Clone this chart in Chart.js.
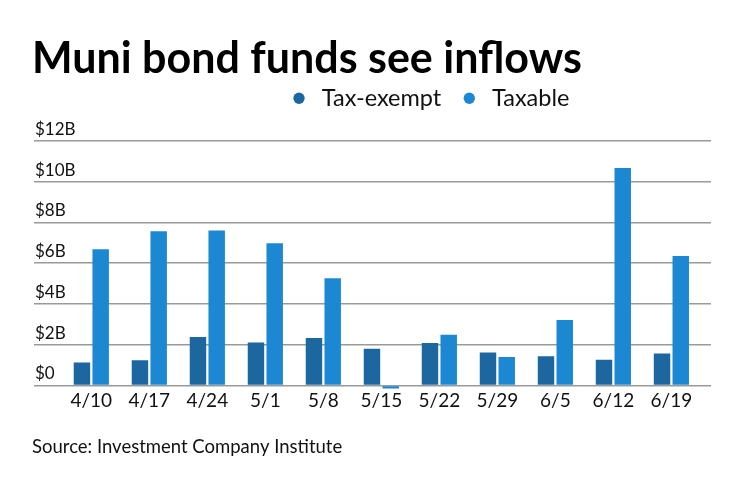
<!DOCTYPE html>
<html>
<head>
<meta charset="utf-8">
<script src="https://cdn.jsdelivr.net/npm/chart.js@4"></script>
<style>
  html, body { margin: 0; padding: 0; background: #ffffff; }
  #wrap { width: 740px; height: 482px; }
</style>
</head>
<body>
<div id="wrap"><canvas id="c" width="740" height="482"></canvas></div>
<script>
// ---- data ----
const categories = ['4/10', '4/17', '4/24', '5/1', '5/8', '5/15', '5/22', '5/29', '6/5', '6/12', '6/19'];
const taxExempt = [1.13, 1.23, 2.38, 2.11, 2.33, 1.80, 2.08, 1.62, 1.43, 1.26, 1.57];
const taxable   = [6.69, 7.57, 7.61, 6.98, 5.26, -0.15, 2.49, 1.39, 3.21, 10.67, 6.36];
const yTickValues = [0, 2, 4, 6, 8, 10, 12];
const yTickLabels = ['$0', '$2B', '$4B', '$6B', '$8B', '$10B', '$12B'];
const seriesNames = ['Tax-exempt', 'Taxable'];
const titleText = 'Muni bond funds see inflows';
const sourceText = 'Source: Investment Company Institute';

const FONT = "Lato, 'Noto Sans', sans-serif";
const toPoints = arr => arr.map((v, i) => ({ x: i, y: v }));

// shift legend horizontally so its first marker sits where the reference has it
const legendShift = {
  id: 'legendShift',
  afterLayout(chart) {
    const lg = chart.legend;
    if (!lg || !lg.lineWidths) return;
    const pad = lg.options.labels.padding;
    const curStart = (lg.left + pad + lg.right - lg.lineWidths[0]) / 2;
    const desiredStart = 288;
    const dx = desiredStart - curStart;
    lg.left += dx;
    lg.right += dx;
  }
};

new Chart(document.getElementById('c'), {
  type: 'bar',
  data: {
    datasets: [
      {
        label: seriesNames[0],
        data: toPoints(taxExempt),
        backgroundColor: '#1c67a0',
        borderWidth: 0
      },
      {
        label: seriesNames[1],
        data: toPoints(taxable),
        backgroundColor: '#1c87d3',
        borderWidth: 0
      }
    ]
  },
  options: {
    responsive: false,
    animation: false,
    categoryPercentage: 0.646,
    barPercentage: 0.878,
    layout: { padding: { left: 32, right: 29, top: 0, bottom: 0 } },
    plugins: {
      tooltip: { enabled: false },
      title: {
        display: true,
        text: titleText,
        align: 'start',
        color: '#000000',
        font: { family: FONT, size: 43, weight: 'bold', lineHeight: 0.5 },
        padding: { top: 48, bottom: 0 }
      },
      legend: {
        display: true,
        position: 'top',
        align: 'center',
        labels: {
          usePointStyle: true,
          pointStyle: 'circle',
          boxWidth: 22,
          boxHeight: 8,
          padding: 17,
          color: '#111111',
          font: { family: FONT, size: 23.5 }
        }
      },
      subtitle: {
        display: true,
        text: sourceText,
        position: 'bottom',
        align: 'start',
        color: '#111111',
        font: { family: FONT, size: 18.5, lineHeight: 1.2 },
        padding: { top: 23.5, bottom: 24 }
      }
    },
    scales: {
      x: {
        type: 'linear',
        position: 'bottom',
        offset: false,
        min: -0.988,
        max: 10.683,
        afterBuildTicks(scale) {
          scale.ticks = categories.map((_, i) => ({ value: i }));
        },
        ticks: {
          autoSkip: false,
          maxRotation: 0,
          padding: 0,
          color: '#111111',
          font: { family: FONT, size: 19 },
          callback: v => categories[v]
        },
        grid: { display: false, drawTicks: false, offset: false },
        border: { display: false }
      },
      gap: {
        type: 'linear',
        position: 'top',
        display: true,
        offset: false,
        ticks: { display: false },
        grid: { display: false, drawTicks: false },
        border: { display: false },
        afterFit(scale) { scale.height = 21; }
      },
      y: {
        type: 'linear',
        position: 'left',
        min: -0.2,
        max: 12,
        afterBuildTicks(scale) {
          scale.ticks = yTickValues.map(v => ({ value: v }));
        },
        ticks: {
          mirror: true,
          padding: 1,
          labelOffset: -11.5,
          color: '#111111',
          font: { family: FONT, size: 17 },
          callback: v => yTickLabels[yTickValues.indexOf(v)]
        },
        grid: { color: '#9a9a9a', lineWidth: 1.5, drawTicks: false },
        border: { display: false }
      }
    }
  },
  plugins: [legendShift]
});
</script>
</body>
</html>
